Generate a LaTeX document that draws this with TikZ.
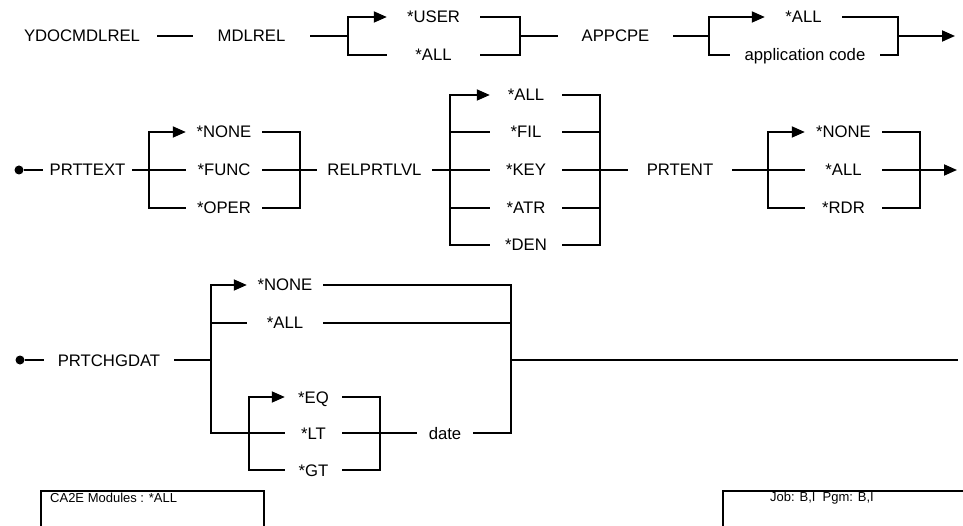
\documentclass[tikz,border=0pt]{standalone}
\usepackage{fontspec}
\setmainfont{Liberation Sans}
\usetikzlibrary{arrows.meta, positioning}

\begin{document}
\begin{tikzpicture}[
            x=1pt, y=-1pt,
            kw/.style={inner sep=0pt, text height=12pt, text depth=0pt, font=\fontsize{16.7pt}{20pt}\selectfont},
            dot/.style={circle, fill, inner sep=0pt, minimum size=9pt},
            panel/.style={draw, line width=2pt, inner sep=0pt, anchor=north west, minimum height=60pt},
            small/.style={inner sep=0pt, anchor=west, font=\fontsize{13pt}{15pt}\selectfont},
            line/.style={draw, line width=1.8pt},
            arrow/.style={line, -{Triangle[length=13pt, width=11pt]}}
        ]
            \useasboundingbox (0,0) rectangle (963,526);

            % Nodes, first row
            \node [kw, minimum width=150pt] (ydoc) at (82,36) {YDOCMDLREL};
            \node [kw, minimum width=117pt] (mdlrel) at (251.5,36) {MDLREL};
            \node [kw, minimum width=93pt] (user) at (433.5,17) {*USER};
            \node [kw, minimum width=93pt] (allA) at (433.5,55) {*ALL};
            \node [kw, minimum width=115pt] (appcpe) at (615.5,36) {APPCPE};
            \node [kw, minimum width=77pt] (allB) at (803.5,17) {*ALL};
            \node [kw, minimum width=150pt] (appcode) at (805,55) {application code};
            \coordinate (b1) at (348,36);
            \coordinate (b2) at (520,36);
            \coordinate (b3) at (709,36);
            \coordinate (b4) at (898,36);
            \coordinate (end1) at (955,36);

            % Nodes, second row
            \node [dot] (start2) at (19,170) {};
            \node [kw, minimum width=89pt] (prttext) at (87.5,170) {PRTTEXT};
            \node [kw, minimum width=76pt] (noneA) at (224,132) {*NONE};
            \node [kw, minimum width=76pt] (func) at (224,170) {*FUNC};
            \node [kw, minimum width=76pt] (oper) at (224,208) {*OPER};
            \node [kw, minimum width=115pt] (relprtlvl) at (374.5,170) {RELPRTLVL};
            \node [kw, minimum width=72pt] (allC) at (526,95) {*ALL};
            \node [kw, minimum width=72pt] (fil) at (526,132) {*FIL};
            \node [kw, minimum width=72pt] (key) at (526,170) {*KEY};
            \node [kw, minimum width=72pt] (atr) at (526,208) {*ATR};
            \node [kw, minimum width=72pt] (den) at (526,245) {*DEN};
            \node [kw, minimum width=104pt] (prtent) at (680,170) {PRTENT};
            \node [kw, minimum width=77pt] (noneB) at (843.5,132) {*NONE};
            \node [kw, minimum width=77pt] (allD) at (843.5,170) {*ALL};
            \node [kw, minimum width=77pt] (rdr) at (843.5,208) {*RDR};
            \coordinate (b5) at (149,170);
            \coordinate (b6) at (300,170);
            \coordinate (b7) at (450,170);
            \coordinate (b8) at (600,170);
            \coordinate (b9) at (768,170);
            \coordinate (b10) at (920,170);
            \coordinate (end2) at (957,170);

            % Nodes, third row
            \node [dot] (start3) at (20,360) {};
            \node [kw, minimum width=130pt] (prtchgdat) at (109,360) {PRTCHGDAT};
            \node [kw, minimum width=76pt] (noneC) at (285,285) {*NONE};
            \node [kw, minimum width=76pt] (allE) at (285,323) {*ALL};
            \node [kw, minimum width=57pt] (eq) at (313.5,397) {*EQ};
            \node [kw, minimum width=57pt] (lt) at (313.5,433) {*LT};
            \node [kw, minimum width=57pt] (gt) at (313.5,470) {*GT};
            \node [kw, minimum width=56pt] (date) at (445,433) {date};
            \coordinate (b11) at (211,360);
            \coordinate (b12) at (249,433);
            \coordinate (b13) at (380,433);
            \coordinate (b14) at (511,360);
            \coordinate (end3) at (958,360);

            % Footer boxes
            \node [panel, minimum width=223pt] (cabox) at (40,490) {};
            \node [small] (catext) at ([xshift=10pt, yshift=-8pt]cabox.north west) {CA2E Modules : *ALL};
            \node [panel, minimum width=260pt] (jobbox) at (722,490) {};
            \node [small] (jobtext) at ([xshift=48pt, yshift=-8pt]jobbox.north west) {Job: B,I\ \ Pgm: B,I};

            % Edges, first row
            \path [line] (ydoc) -- (mdlrel);
            \path [line] (mdlrel) -- (b1);
            \path [arrow] (b1) |- (user);
            \path [line] (b1) |- (allA);
            \path [line] (user) -| (b2);
            \path [line] (allA) -| (b2);
            \path [line] (b2) -- (appcpe);
            \path [line] (appcpe) -- (b3);
            \path [arrow] (b3) |- (allB);
            \path [line] (b3) |- (appcode);
            \path [line] (allB) -| (b4);
            \path [line] (appcode) -| (b4);
            \path [arrow] (b4) -- (end1);

            % Edges, second row
            \path [line] (start2) -- (prttext);
            \path [line] (prttext) -- (b5);
            \path [arrow] (b5) |- (noneA);
            \path [line] (b5) -- (func);
            \path [line] (b5) |- (oper);
            \path [line] (noneA) -| (b6);
            \path [line] (func) -- (b6);
            \path [line] (oper) -| (b6);
            \path [line] (b6) -- (relprtlvl);
            \path [line] (relprtlvl) -- (b7);
            \path [arrow] (b7) |- (allC);
            \path [line] (b7) |- (fil);
            \path [line] (b7) -- (key);
            \path [line] (b7) |- (atr);
            \path [line] (b7) |- (den);
            \path [line] (allC) -| (b8);
            \path [line] (fil) -| (b8);
            \path [line] (key) -- (b8);
            \path [line] (atr) -| (b8);
            \path [line] (den) -| (b8);
            \path [line] (b8) -- (prtent);
            \path [line] (prtent) -- (b9);
            \path [arrow] (b9) |- (noneB);
            \path [line] (b9) -- (allD);
            \path [line] (b9) |- (rdr);
            \path [line] (noneB) -| (b10);
            \path [line] (allD) -- (b10);
            \path [line] (rdr) -| (b10);
            \path [arrow] (b10) -- (end2);

            % Edges, third row
            \path [line] (start3) -- (prtchgdat);
            \path [line] (prtchgdat) -- (b11);
            \path [arrow] (b11) |- (noneC);
            \path [line] (b11) |- (allE);
            \path [line] (b11) |- (lt);
            \path [arrow] (b12) |- (eq);
            \path [line] (b12) |- (gt);
            \path [line] (eq) -| (b13);
            \path [line] (lt) -- (b13);
            \path [line] (gt) -| (b13);
            \path [line] (b13) -- (date);
            \path [line] (date) -| (b14);
            \path [line] (noneC) -| (b14);
            \path [line] (allE) -| (b14);
            \path [line] (b14) -- (end3);
        \end{tikzpicture}
\end{document}
